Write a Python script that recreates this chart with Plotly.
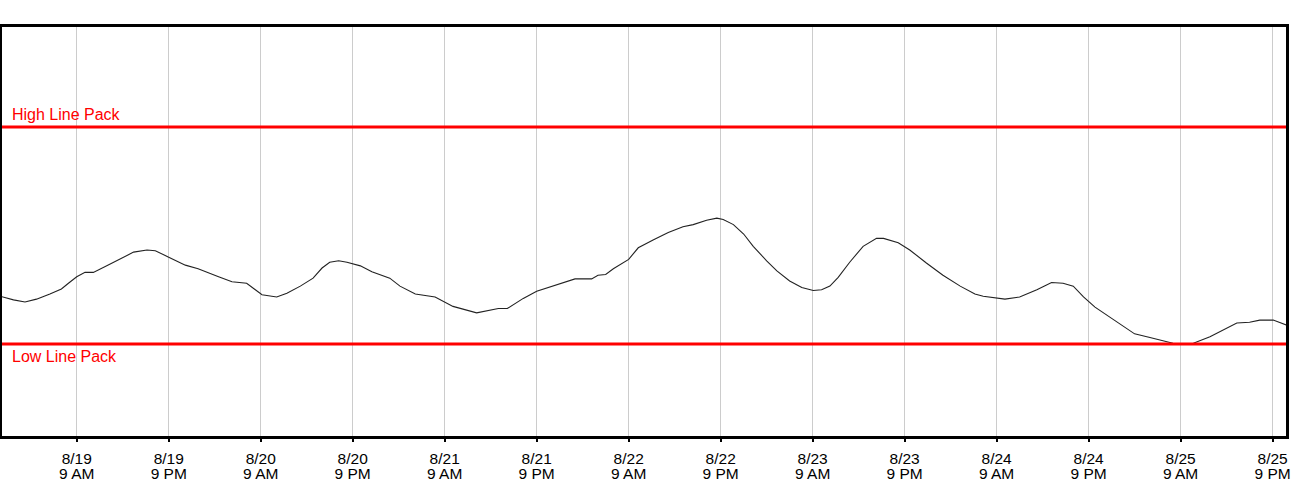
import pandas as pd
import plotly.graph_objects as go

# line pack readings (time, value)
times = [
    "2024-08-18 23:00", "2024-08-19 00:45", "2024-08-19 02:15", "2024-08-19 03:45",
    "2024-08-19 05:30", "2024-08-19 07:00", "2024-08-19 07:55", "2024-08-19 09:00",
    "2024-08-19 10:05", "2024-08-19 11:10", "2024-08-19 12:55", "2024-08-19 14:40",
    "2024-08-19 16:25", "2024-08-19 18:10", "2024-08-19 19:15", "2024-08-19 21:00",
    "2024-08-19 23:10", "2024-08-20 00:50", "2024-08-20 02:10", "2024-08-20 03:30",
    "2024-08-20 05:15", "2024-08-20 07:10", "2024-08-20 09:10", "2024-08-20 11:05",
    "2024-08-20 12:25", "2024-08-20 14:10", "2024-08-20 15:50", "2024-08-20 17:00",
    "2024-08-20 18:00", "2024-08-20 19:10", "2024-08-20 20:15", "2024-08-20 22:00",
    "2024-08-20 23:30", "2024-08-21 01:50", "2024-08-21 03:10", "2024-08-21 05:10",
    "2024-08-21 07:45", "2024-08-21 10:05", "2024-08-21 13:10", "2024-08-21 16:00",
    "2024-08-21 17:10", "2024-08-21 19:15", "2024-08-21 21:00", "2024-08-21 23:10",
    "2024-08-22 02:00", "2024-08-22 04:10", "2024-08-22 05:00", "2024-08-22 06:00",
    "2024-08-22 07:00", "2024-08-22 09:00", "2024-08-22 10:15", "2024-08-22 12:15",
    "2024-08-22 14:10", "2024-08-22 16:05", "2024-08-22 17:25", "2024-08-22 19:10",
    "2024-08-22 20:30", "2024-08-22 21:20", "2024-08-22 22:40", "2024-08-23 00:00",
    "2024-08-23 01:15", "2024-08-23 03:00", "2024-08-23 04:20", "2024-08-23 06:00",
    "2024-08-23 07:35", "2024-08-23 09:05", "2024-08-23 10:10", "2024-08-23 11:15",
    "2024-08-23 12:20", "2024-08-23 13:50", "2024-08-23 15:35", "2024-08-23 17:20",
    "2024-08-23 18:15", "2024-08-23 20:10", "2024-08-23 21:40", "2024-08-23 23:50",
    "2024-08-24 02:00", "2024-08-24 04:15", "2024-08-24 06:10", "2024-08-24 07:15",
    "2024-08-24 10:05", "2024-08-24 12:00", "2024-08-24 14:15", "2024-08-24 16:10",
    "2024-08-24 17:40", "2024-08-24 19:00", "2024-08-24 20:20", "2024-08-24 21:50",
    "2024-08-24 23:20", "2024-08-25 01:05", "2024-08-25 03:00", "2024-08-25 05:00",
    "2024-08-25 06:30", "2024-08-25 08:00", "2024-08-25 09:20", "2024-08-25 10:40",
    "2024-08-25 12:50", "2024-08-25 14:35", "2024-08-25 16:20", "2024-08-25 18:00",
    "2024-08-25 19:20", "2024-08-25 21:05", "2024-08-25 22:50",
]
line_pack = [
    3066, 3061, 3058, 3062, 3069, 3076, 3084, 3093,
    3099, 3099, 3108, 3118, 3127, 3130, 3129, 3120,
    3109, 3104, 3098, 3093, 3086, 3084, 3068, 3065,
    3070, 3080, 3091, 3105, 3113, 3115, 3113, 3108,
    3100, 3091, 3080, 3069, 3065, 3052, 3043, 3049,
    3049, 3063, 3073, 3080, 3090, 3090, 3095, 3096,
    3104, 3117, 3133, 3144, 3154, 3162, 3165, 3171,
    3174, 3172, 3165, 3152, 3135, 3115, 3101, 3087,
    3078, 3074, 3075, 3080, 3092, 3113, 3135, 3146,
    3146, 3140, 3130, 3112, 3095, 3080, 3069, 3066,
    3062, 3065, 3075, 3085, 3084, 3080, 3065, 3051,
    3040, 3028, 3014, 3009, 3005, 3001, 3000, 3001,
    3010, 3020, 3029, 3030, 3033, 3033, 3026,
]

high_line_pack = 3300
low_line_pack = 3000

tick_times = [
    "2024-08-19 09:00", "2024-08-19 21:00", "2024-08-20 09:00", "2024-08-20 21:00",
    "2024-08-21 09:00", "2024-08-21 21:00", "2024-08-22 09:00", "2024-08-22 21:00",
    "2024-08-23 09:00", "2024-08-23 21:00", "2024-08-24 09:00", "2024-08-24 21:00",
    "2024-08-25 09:00", "2024-08-25 21:00",
]
tick_dates = [
    "8/19", "8/19", "8/20", "8/20", "8/21", "8/21", "8/22",
    "8/22", "8/23", "8/23", "8/24", "8/24", "8/25", "8/25",
]
tick_hours = ["9 AM", "9 PM"] * 7

x_range = ["2024-08-18 23:15", "2024-08-25 22:45"]
y_range = [2872.8, 3438.2]

df = pd.DataFrame({"time": pd.to_datetime(times), "value": line_pack})

fig = go.Figure()
fig.add_trace(go.Scatter(
    x=df["time"], y=df["value"],
    mode="lines",
    line=dict(color="#222222", width=1.1),
    showlegend=False,
    hoverinfo="x+y",
))
# invisible copy so the overlaid hour axis gets drawn
fig.add_trace(go.Scatter(
    x=df["time"], y=df["value"], xaxis="x2",
    mode="markers", marker=dict(opacity=0, size=1),
    showlegend=False, hoverinfo="skip",
))

red = "#ff0000"
for val, label, anchor, shift in [
    (high_line_pack, "High Line Pack", "bottom", 2),
    (low_line_pack, "Low Line Pack", "top", -2),
]:
    fig.add_shape(type="line", xref="paper", x0=0, x1=1, yref="y", y0=val, y1=val,
                  line=dict(color=red, width=3))
    fig.add_annotation(xref="paper", x=0, xanchor="left", xshift=8,
                       yref="y", y=val, yanchor=anchor, yshift=shift,
                       text=label, showarrow=False,
                       font=dict(color=red, size=16, family="Liberation Sans, Arial"))

tick_font = dict(size=15.5, color="black", family="Liberation Sans, Arial")

# date line of the tick labels
fig.update_layout(xaxis=dict(
    type="date", range=x_range,
    tickmode="array", tickvals=tick_times, ticktext=tick_dates,
    showgrid=True, gridcolor="#cccccc", gridwidth=1,
    showline=True, linecolor="black", linewidth=3, mirror=True,
    ticks="outside", ticklen=3, tickwidth=1.5, tickcolor="black",
    tickfont=tick_font, ticklabelstandoff=3, zeroline=False,
))
# hour line, on an overlaid axis so the two lines can sit close together
fig.update_layout(xaxis2=dict(
    type="date", range=x_range, overlaying="x", anchor="y", side="bottom",
    tickmode="array", tickvals=tick_times, ticktext=tick_hours,
    showgrid=False, showline=False, ticks="", zeroline=False,
    tickfont=tick_font, ticklabelstandoff=26,
))
fig.update_yaxes(
    range=y_range,
    showgrid=False, showticklabels=False, ticks="",
    showline=True, linecolor="black", linewidth=3, mirror=True,
    zeroline=False,
)
fig.update_layout(
    width=1300, height=500,
    margin=dict(l=2, r=14, t=27, b=64),
    plot_bgcolor="white", paper_bgcolor="white",
    font=dict(family="Liberation Sans, Arial", color="black"),
)
# drop the page's default body margin so the figure sits at the window corner
fig.write_html("out.html", config={"displayModeBar": False},
               post_script="document.body.style.margin='0';")
